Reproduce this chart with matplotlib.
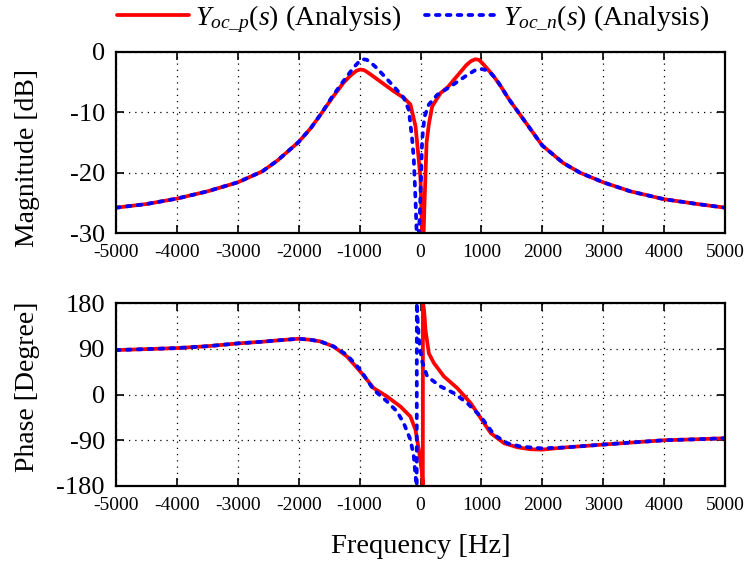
import matplotlib
matplotlib.use("Agg")
import matplotlib.pyplot as plt
import numpy as np

plt.rcParams['font.family'] = ['Liberation Serif', 'DejaVu Serif']
plt.rcParams['mathtext.fontset'] = 'custom'
plt.rcParams['mathtext.rm'] = 'Liberation Serif'
plt.rcParams['mathtext.it'] = 'Liberation Serif:italic'
plt.rcParams['axes.unicode_minus'] = False

# ---------------- data ----------------
f_mag_p = [-5000, -4500, -4000, -3500, -3000, -2600, -2350, -2000, -1800, -1615, -1450,
           -1264, -1150, -1050, -989, -930, -879, -780, -659, -440, -275, -165, -82, -44,
           0, 20, 40, 66, 100, 137, 192, 330, 450, 549, 650, 750, 830, 900, 960, 1020,
           1099, 1200, 1319, 1450, 1593, 1800, 2000, 2344, 2618, 3000, 3448, 4000, 4548, 5000]
mag_p = [-25.8, -25.2, -24.3, -23.1, -21.6, -19.8, -18.0, -14.9, -12.6, -10.0, -7.6,
         -5.1, -3.9, -3.1, -2.9, -3.0, -3.3, -4.0, -4.9, -6.5, -7.6, -8.7, -12.3, -16.2,
         -21.0, -28.0, -34.0, -25.0, -15.0, -12.0, -9.0, -6.8, -5.8, -4.6, -3.4, -2.2, -1.5, -1.2, -1.3, -1.9,
         -2.8, -4.0, -5.7, -7.8, -9.8, -12.7, -15.5, -18.4, -20.0, -21.6, -23.1, -24.4, -25.2, -25.8]

f_mag_n = [-5000, -4500, -4000, -3500, -3000, -2600, -2350, -2000, -1800, -1615, -1450,
           -1264, -1100, -1000, -940, -880, -800, -714, -440, -275, -192, -137, -110, -82, -50,
           -11, 11, 27, 66, 137, 275, 495, 769, 900, 989, 1080, 1154, 1250, 1319, 1450, 1593,
           1800, 2000, 2344, 2618, 3000, 3448, 4000, 4548, 5000]
mag_n = [-25.8, -25.2, -24.3, -23.1, -21.6, -19.8, -18.0, -14.9, -12.6, -10.0, -7.4,
         -4.8, -2.6, -1.5, -1.2, -1.3, -1.9, -2.7, -5.7, -7.6, -9.6, -14.5, -17.8, -24.5, -34.0,
         -27.0, -20.0, -14.5, -10.7, -8.7, -7.1, -5.7, -3.8, -3.0, -2.8, -3.0, -3.5, -4.6, -5.7, -7.8, -9.8,
         -12.7, -15.5, -18.4, -20.0, -21.6, -23.1, -24.4, -25.2, -25.8]

f_ph_p = [-5000, -4500, -4000, -3500, -3000, -2600, -2350, -2000, -1800, -1648, -1429,
          -1209, -989, -769, -549, -330, -165, -82, -27, 20, 38, 40, 60, 82, 137, 220,
          385, 604, 824, 989, 1154, 1374, 1593, 1800, 2000, 2344, 3000, 3448, 4000,
          4548, 5000]
ph_p = [87.4, 89.3, 91.3, 95.0, 100.5, 103.8, 106.4, 109.7, 107.5, 104.5, 94.6,
        74.9, 45.3, 12.5, -4.0, -23.6, -43.4, -69.6, -109.0, -150.0, -180.0, 180.0, 165.0, 127.0, 81.0, 61.8,
        35.5, 12.5, -17.0, -46.6, -76.0, -96.0, -103.8, -107.7, -108.4, -104.4, -98.5, -94.6, -90.0,
        -88.0, -86.0]

f_ph_n = [-5000, -4500, -4000, -3500, -3000, -2600, -2350, -2000, -1800, -1648, -1429,
          -1209, -989, -769, -549, -385, -275, -165, -110, -82, -62, -60, -44, -27, 0,
          27, 110, 330, 549, 769, 989, 1209, 1429, 1648, 1978, 2344, 3000, 3448, 4000,
          4548, 5000]
ph_n = [87.4, 89.3, 91.3, 95.0, 100.5, 103.8, 106.4, 109.7, 107.5, 104.5, 94.6,
        78.0, 48.6, 9.2, -13.8, -33.5, -56.5, -89.0, -122.0, -160.0, -180.0, 180.0, 140.0, 110.0, 85.0,
        65.0, 35.5, 15.8, 2.6, -17.0, -43.4, -79.5, -96.0, -102.5, -105.8, -104.4, -98.5, -94.6, -90.0,
        -88.0, -86.0]

xticks = [-5000, -4000, -3000, -2000, -1000, 0, 1000, 2000, 3000, 4000, 5000]
mag_ticks = [0, -10, -20, -30]
ph_ticks = [180, 90, 0, -90, -180]

label_p = r'$Y_{oc\_p}(s)$ (Analysis)'
label_n = r'$Y_{oc\_n}(s)$ (Analysis)'

# ---------------- figure ----------------
W, H = 744, 561
fig = plt.figure(figsize=(W / 100, H / 100), dpi=100)

def px_axes(x0, y0, x1, y1):
    return fig.add_axes([x0 / W, 1 - y1 / H, (x1 - x0) / W, (y1 - y0) / H])

ax1 = px_axes(116, 52, 725, 233)
ax2 = px_axes(116, 303, 725, 486)

red_kw = dict(color='#ff0000', lw=2.7, solid_capstyle='round', solid_joinstyle='round')
blue_kw = dict(color='#0000ff', lw=2.7, linestyle=(0, (1.0, 1.9)), dash_capstyle='round')

lp, = ax1.plot(f_mag_p, mag_p, label=label_p, **red_kw)
ln, = ax1.plot(f_mag_n, mag_n, label=label_n, **blue_kw)
ax2.plot(f_ph_p, ph_p, **red_kw)
ax2.plot(f_ph_n, ph_n, **blue_kw)

for ax, yt, ylim in ((ax1, mag_ticks, (-30, 0)), (ax2, ph_ticks, (-180, 180))):
    ax.set_xlim(-5000, 5000)
    ax.set_ylim(*ylim)
    ax.set_xticks(xticks)
    ax.set_yticks(yt)
    ax.grid(True, color='black', linestyle=(0, (1, 4)), lw=0.9)
    ax.tick_params(axis='both', direction='in', top=True, right=True, length=6, width=1.2)
    ax.tick_params(axis='x', labelsize=14, pad=8)
    ax.tick_params(axis='y', labelsize=19, pad=8)
    for s in ax.spines.values():
        s.set_linewidth(1.6)

ax1.set_ylabel('Magnitude [dB]', fontsize=20)
ax1.yaxis.set_label_coords(-0.125, 0.414)
ax2.set_ylabel('Phase [Degree]', fontsize=20)
ax2.yaxis.set_label_coords(-0.125, 0.544)
ax2.set_xlabel('Frequency [Hz]', fontsize=20.5)
ax2.xaxis.set_label_coords(0.5, -0.26)

fig.legend(handles=[lp, ln], loc='center', bbox_to_anchor=(413 / W, 1 - 19 / H),
           ncol=2, frameon=False, fontsize=20, handlelength=2.6, handletextpad=0.2,
           columnspacing=0.85, borderaxespad=0, borderpad=0)

fig.savefig('out.png', dpi=100)
